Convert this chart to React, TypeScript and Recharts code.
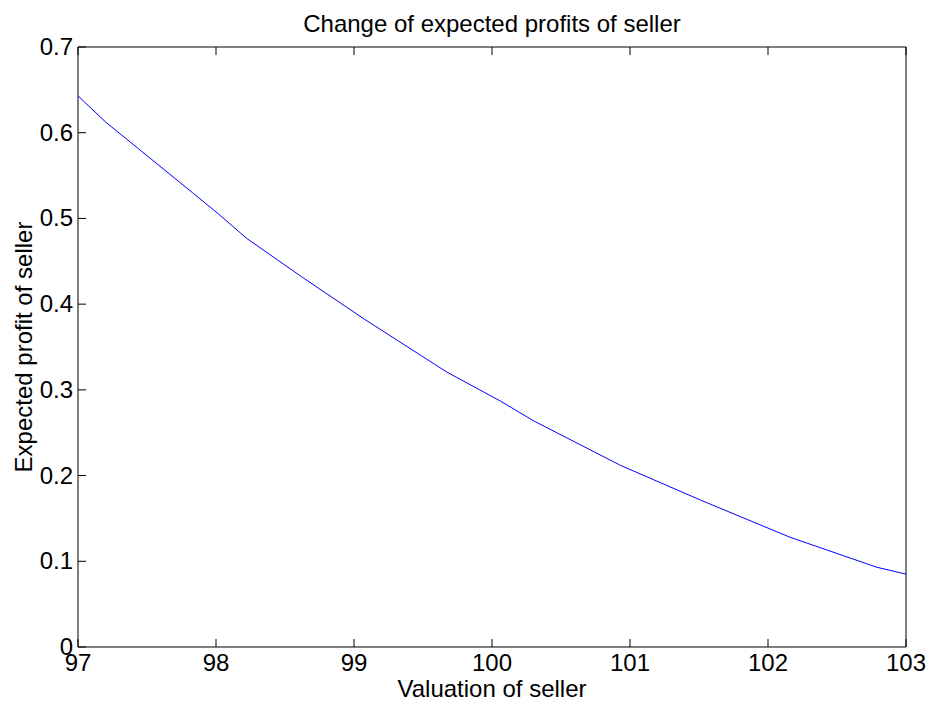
import { LineChart, Line, XAxis, YAxis } from "recharts";

// valuation of seller (x) and expected profit (y)
const VALUATION = [
	97.0, 97.2, 97.83, 98.02, 98.22, 98.62, 99.07, 99.67, 100.06, 100.3,
	100.93, 101.51, 102.16, 102.79, 103.0,
];
const PROFIT = [
	0.643, 0.6125, 0.53, 0.505, 0.477, 0.432, 0.383, 0.321, 0.287, 0.264,
	0.212, 0.1715, 0.128, 0.093, 0.085,
];
const X_TICKS = [97, 98, 99, 100, 101, 102, 103];
const Y_TICKS = [0, 0.1, 0.2, 0.3, 0.4, 0.5, 0.6, 0.7];

const data = VALUATION.map((v, i) => ({ v, p: PROFIT[i] }));

const FONT = "'Liberation Sans', Arial, Helvetica, sans-serif";
const FS = 24;
const TICK = 8;
const axisLine = { stroke: "#000", strokeWidth: 1 };

// matlab style ticks point into the plot box
function BottomTick(props: any) {
	const { x, y, payload } = props;
	return (
		<g>
			<line x1={x} y1={y} x2={x} y2={y - TICK} stroke="#000" />
			<text x={x} y={y + 24} textAnchor="middle" fontSize={FS} fontFamily={FONT} fill="#000">
				{payload.value}
			</text>
		</g>
	);
}

function TopTick(props: any) {
	const { x, y } = props;
	return <line x1={x} y1={y} x2={x} y2={y + TICK} stroke="#000" />;
}

function LeftTick(props: any) {
	const { x, y, payload } = props;
	return (
		<g>
			<line x1={x} y1={y} x2={x + TICK} y2={y} stroke="#000" />
			<text x={x - 5} y={y + 8} textAnchor="end" fontSize={FS} fontFamily={FONT} fill="#000">
				{payload.value}
			</text>
		</g>
	);
}

function RightTick(props: any) {
	const { x, y } = props;
	return <line x1={x} y1={y} x2={x - TICK} y2={y} stroke="#000" />;
}

export default function App() {
	return (
		<div
			style={{
				position: "absolute",
				left: 0,
				top: 0,
				width: 934,
				height: 704,
				background: "#fff",
				fontFamily: FONT,
			}}
		>
			<LineChart
				width={934}
				height={704}
				data={data}
				margin={{ top: 46, right: 27, bottom: 27, left: 18 }}
			>
				<XAxis
					dataKey="v"
					type="number"
					domain={[97, 103]}
					ticks={X_TICKS}
					axisLine={axisLine}
					tickLine={false}
					tickSize={0}
					tickMargin={0}
					tick={<BottomTick />}
					height={30}
					interval={0}
				/>
				<XAxis
					xAxisId="top"
					orientation="top"
					dataKey="v"
					type="number"
					domain={[97, 103]}
					ticks={X_TICKS}
					axisLine={axisLine}
					tickLine={false}
					tickSize={0}
					tickMargin={0}
					tick={<TopTick />}
					height={1}
					interval={0}
				/>
				<YAxis
					type="number"
					domain={[0, 0.7]}
					ticks={Y_TICKS}
					axisLine={axisLine}
					tickLine={false}
					tickSize={0}
					tickMargin={0}
					tick={<LeftTick />}
					width={60}
					interval={0}
				/>
				<YAxis
					yAxisId="right"
					orientation="right"
					type="number"
					domain={[0, 0.7]}
					ticks={Y_TICKS}
					axisLine={axisLine}
					tickLine={false}
					tickSize={0}
					tickMargin={0}
					tick={<RightTick />}
					width={1}
					interval={0}
				/>
				<Line
					type="linear"
					dataKey="p"
					stroke="#0000ff"
					strokeWidth={1}
					dot={false}
					isAnimationActive={false}
				/>
			</LineChart>
			<div
				style={{
					position: "absolute",
					left: 78,
					width: 828,
					top: 10,
					textAlign: "center",
					fontSize: FS,
				}}
			>
				Change of expected profits of seller
			</div>
			<div
				style={{
					position: "absolute",
					left: 78,
					width: 828,
					top: 675,
					textAlign: "center",
					fontSize: FS,
				}}
			>
				Valuation of seller
			</div>
			<div
				style={{
					position: "absolute",
					left: 24,
					top: 347,
					transform: "translate(-50%, -50%) rotate(-90deg)",
					whiteSpace: "nowrap",
					fontSize: FS,
				}}
			>
				Expected profit of seller
			</div>
		</div>
	);
}
